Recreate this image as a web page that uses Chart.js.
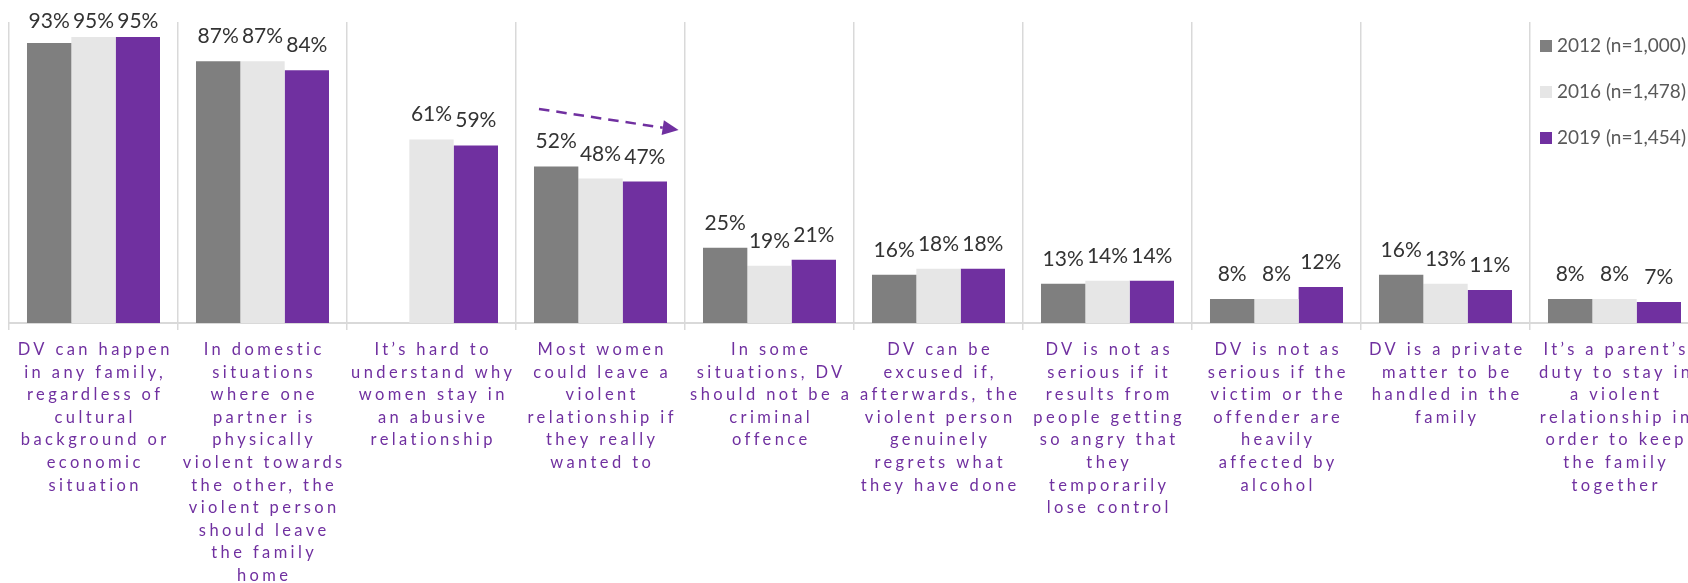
<!DOCTYPE html>
<html>
<head>
<meta charset="utf-8">
<script src="https://cdn.jsdelivr.net/npm/chart.js@4/dist/chart.umd.min.js"></script>
<style>
  html, body { margin: 0; padding: 0; background: #ffffff; overflow: hidden; }
  #wrap { width: 1710px; height: 583px; }
</style>
</head>
<body>
<div id="wrap"><canvas id="c" width="1710" height="583"></canvas></div>
<script>
// Statements (each one wrapped into lines for the axis)
const categories = [
  ["DV can happen", "in any family,", "regardless of", "cultural", "background or", "economic", "situation"],
  ["In domestic", "situations", "where one", "partner is", "physically", "violent towards", "the other, the", "violent person", "should leave", "the family", "home"],
  ["It\u2019s hard to", "understand why", "women stay in", "an abusive", "relationship"],
  ["Most women", "could leave a", "violent", "relationship if", "they really", "wanted to"],
  ["In some", "situations, DV", "should not be a", "criminal", "offence"],
  ["DV can be", "excused if,", "afterwards, the", "violent person", "genuinely", "regrets what", "they have done"],
  ["DV is not as", "serious if it", "results from", "people getting", "so angry that", "they", "temporarily", "lose control"],
  ["DV is not as", "serious if the", "victim or the", "offender are", "heavily", "affected by", "alcohol"],
  ["DV is a private", "matter to be", "handled in the", "family"],
  ["It\u2019s a parent\u2019s", "duty to stay in", "a violent", "relationship in", "order to keep", "the family", "together"]
];

const seriesLabels = ["2012 (n=1,000)", "2016 (n=1,478)", "2019 (n=1,454)"];

// Percentage agreeing, per survey wave
const values2012 = [93, 87, null, 52, 25, 16, 13, 8, 16, 8];
const values2016 = [95, 87, 61, 48, 19, 18, 14, 8, 13, 8];
const values2019 = [95, 84, 59, 47, 21, 18, 14, 12, 11, 7];

const colors = ["#7F7F7F", "#E6E6E6", "#7030A0"];
const purple = "#7030A0";

// Value labels above each bar
const valueLabels = {
  id: "valueLabels",
  afterDatasetsDraw(chart) {
    const ctx = chart.ctx;
    ctx.save();
    ctx.font = "21px Lato";
    ctx.fillStyle = "#333333";
    ctx.textAlign = "center";
    ctx.textBaseline = "alphabetic";
    chart.data.datasets.forEach((ds, di) => {
      const meta = chart.getDatasetMeta(di);
      meta.data.forEach((el, i) => {
        const v = ds.data[i];
        if (v === null || v === undefined) return;
        const y = Math.max(el.y - 18, 28);
        ctx.fillText(v + "%", el.x, y);
      });
    });
    ctx.restore();
  }
};

// Wrapped, letter-spaced category text under the axis
const categoryText = {
  id: "categoryText",
  afterDraw(chart) {
    const ctx = chart.ctx;
    const xs = chart.scales.x;
    const sp = 3.4;
    ctx.save();
    ctx.font = "16.5px Lato";
    ctx.letterSpacing = sp + "px";
    ctx.fillStyle = purple;
    ctx.textAlign = "left";
    ctx.textBaseline = "alphabetic";
    categories.forEach((lines, i) => {
      const cx = xs.getPixelForValue(i);
      lines.forEach((line, j) => {
        const w = ctx.measureText(line).width - sp;
        ctx.fillText(line, cx - w / 2, 355 + j * 22.6);
      });
    });
    ctx.restore();
  }
};

// Dashed trend arrow over "Most women could leave..."
const trendArrow = {
  id: "trendArrow",
  afterDraw(chart) {
    const ctx = chart.ctx;
    const xs = chart.scales.x, ys = chart.scales.y;
    const cw = xs.getPixelForValue(1) - xs.getPixelForValue(0);
    const x0 = xs.getPixelForValue(3) - 0.364 * cw, y0 = ys.getPixelForValue(71.1);
    const x1 = xs.getPixelForValue(3) + 0.462 * cw, y1 = ys.getPixelForValue(64.1);
    const ang = Math.atan2(y1 - y0, x1 - x0);
    const head = 16;
    ctx.save();
    ctx.strokeStyle = purple;
    ctx.fillStyle = purple;
    ctx.lineWidth = 2.5;
    ctx.setLineDash([10.5, 7]);
    ctx.beginPath();
    ctx.moveTo(x0, y0);
    ctx.lineTo(x1 - head * Math.cos(ang), y1 - head * Math.sin(ang));
    ctx.stroke();
    ctx.setLineDash([]);
    ctx.beginPath();
    ctx.moveTo(x1, y1);
    ctx.lineTo(x1 - head * Math.cos(ang) + 7.5 * Math.sin(ang), y1 - head * Math.sin(ang) - 7.5 * Math.cos(ang));
    ctx.lineTo(x1 - head * Math.cos(ang) - 7.5 * Math.sin(ang), y1 - head * Math.sin(ang) + 7.5 * Math.cos(ang));
    ctx.closePath();
    ctx.fill();
    ctx.restore();
  }
};

// Legend in the upper right corner
const cornerLegend = {
  id: "cornerLegend",
  afterDraw(chart) {
    const ctx = chart.ctx;
    ctx.save();
    ctx.font = "19px Lato";
    ctx.textBaseline = "middle";
    ctx.textAlign = "left";
    chart.data.datasets.forEach((ds, i) => {
      const cy = 46 + i * 46;
      ctx.fillStyle = ds.backgroundColor;
      ctx.fillRect(1540, cy - 6, 12, 12);
      ctx.fillStyle = "#595959";
      ctx.fillText(ds.label, 1557, cy);
    });
    ctx.restore();
  }
};

new Chart(document.getElementById("c"), {
  type: "bar",
  data: {
    labels: categories.map(l => l.join(" ")),
    datasets: [
      { label: seriesLabels[0], data: values2012, backgroundColor: colors[0] },
      { label: seriesLabels[1], data: values2016, backgroundColor: colors[1] },
      { label: seriesLabels[2], data: values2019, backgroundColor: colors[2] }
    ]
  },
  options: {
    responsive: false,
    animation: false,
    devicePixelRatio: 1,
    layout: { padding: { left: 9, top: 22, right: 11, bottom: 0 } },
    datasets: { bar: { categoryPercentage: 0.787, barPercentage: 1.0 } },
    plugins: { legend: { display: false }, tooltip: { enabled: false } },
    scales: {
      x: {
        offset: true,
        grid: { display: true, offset: true, color: "#D9D9D9", lineWidth: 1.5, tickLength: 7, drawTicks: true },
        border: { display: true, color: "#D9D9D9", width: 2 },
        ticks: { display: false },
        afterFit(scale) { scale.height = 260; }
      },
      y: { display: false, min: 0, max: 100 }
    }
  },
  plugins: [valueLabels, categoryText, trendArrow, cornerLegend]
});
</script>
</body>
</html>
